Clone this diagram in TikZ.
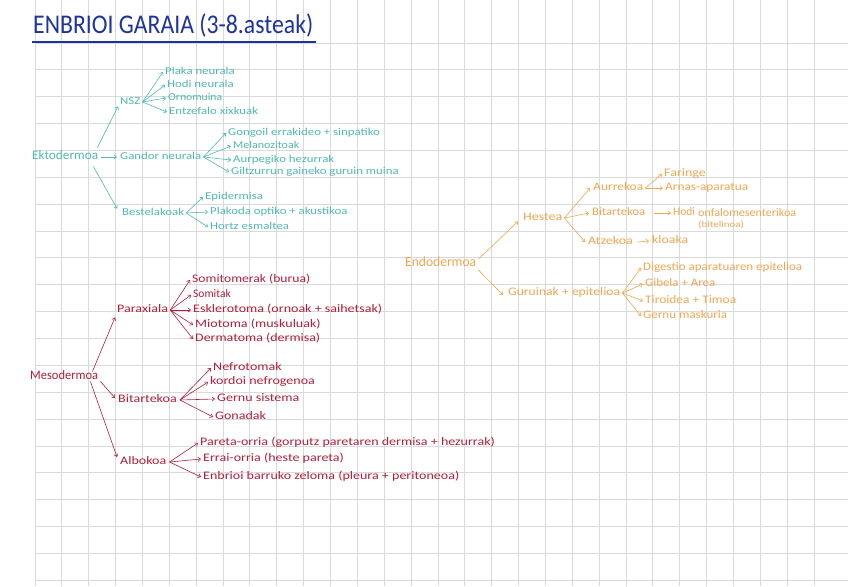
\documentclass[tikz,border=0pt]{standalone}
\usepackage{fontspec}
\setmainfont{Carlito}
\usepackage{graphicx}
\usetikzlibrary{arrows.meta}
\definecolor{tealc}{RGB}{80,184,180}
\definecolor{orangec}{RGB}{240,166,82}
\definecolor{crimc}{RGB}{176,32,58}
\definecolor{titleblue}{RGB}{30,52,156}
\definecolor{gridc}{RGB}{218,218,218}
\newlength{\hwlen}
\newcommand{\hw}[2]{\settowidth{\hwlen}{#2}%
  \pgfmathsetmacro{\hwratio}{max(0.92,min(1.22,#1/\hwlen))}%
  \scalebox{\hwratio}[1]{#2}}
\tikzset{
  txt/.style={anchor=west, inner sep=0pt, text height=0.65em, text depth=0.2em},
  ecto/.style={txt, text=tealc, font=\fontsize{10.5}{12}\selectfont},
  endo/.style={txt, text=orangec, font=\fontsize{11.5}{13}\selectfont},
  meso/.style={txt, text=crimc, font=\fontsize{11.5}{13}\selectfont},
  root/.style={font=\fontsize{13}{15}\selectfont},
  arr/.style={-{Straight Barb[length=2.6pt,width=4.2pt]}, line width=0.6pt},
  arre/.style={arr, draw=tealc},
  arrn/.style={arr, draw=orangec},
  arrm/.style={arr, draw=crimc},
  gridline/.style={draw=gridc, line width=0.8pt}
}
\begin{document}
\begin{tikzpicture}[x=1pt,y=-1pt]
\fill[white] (0,0) rectangle (848,586);
\useasboundingbox (0,0) rectangle (848,586);
% grid
\foreach \i in {0,...,29} \draw[gridline] ({35+26.86*\i},0) -- ({35+26.86*\i},586);
\foreach \j in {0,...,20} \draw[gridline] (35,{43+26.86*\j}) -- (848,{43+26.86*\j});
% title
\node[anchor=west, inner sep=0pt, text=titleblue, font=\fontsize{27}{30}\selectfont] (title) at (33,25) {\resizebox{280pt}{\height}{ENBRIOI GARAIA (3-8.asteak)}};
\coordinate (ul1) at (32,42);
\coordinate (ul2) at (316,42);
\draw[titleblue, line width=1.8pt] (ul1) -- (ul2);

% ===== Ektodermoa =====
\node[ecto, root] (ekto) at (32,157) {\hw{66}{Ektodermoa}};
\node[ecto] (nsz) at (120,102) {\hw{28}{NSZ}};
\node[ecto] (plaka) at (165,72) {\hw{75}{Plaka neurala}};
\node[ecto] (hodi) at (167,85) {\hw{71}{Hodi neurala}};
\node[ecto] (orno) at (168,98) {\hw{54}{Ornomuina}};
\node[ecto] (entz) at (169,112) {\hw{99}{Entzefalo xixkuak}};
\node[ecto] (gandor) at (120,157) {\hw{85}{Gandor neurala}};
\node[ecto] (gong) at (228,133) {\hw{157}{Gongoil errakideo + sinpatiko}};
\node[ecto] (mela) at (233,146) {\hw{66}{Melanozitoak}};
\node[ecto] (aurp) at (233,160) {\hw{105}{Aurpegiko hezurrak}};
\node[ecto] (gilt) at (231,172) {\hw{171}{Giltzurrun gaineko guruin muina}};
\node[ecto] (best) at (122,213) {\hw{63}{Bestelakoak}};
\node[ecto] (epid) at (205,197) {\hw{58}{Epidermisa}};
\node[ecto] (plako) at (210,212) {\hw{138}{Plakoda optiko + akustikoa}};
\node[ecto] (hortz) at (210,227) {\hw{81}{Hortz esmaltea}};

\draw[arre] ([xshift=-1pt,yshift=5pt]ekto.north east) -- ([xshift=-2pt]nsz.south west);
\draw[arre] ([xshift=3pt]ekto.east) -- ([xshift=-3pt]gandor.west);
\draw[arre] ([xshift=-5pt,yshift=-5pt]ekto.south east) -- ([xshift=-5pt]best.north west);
\foreach \t in {plaka,hodi,orno,entz}
  \draw[arre] ([xshift=2pt]nsz.east) -- ([xshift=-2pt]\t.west);
\foreach \t in {gong,mela,aurp,gilt}
  \draw[arre] ([xshift=2pt]gandor.east) -- ([xshift=-2pt]\t.west);
\foreach \t in {epid,plako,hortz}
  \draw[arre] ([xshift=2pt]best.east) -- ([xshift=-2pt]\t.west);

% ===== Endodermoa =====
\node[endo, font=\fontsize{14}{16}\selectfont] (endo) at (405,264) {\hw{71}{Endodermoa}};
\node[endo] (hestea) at (523,218) {\hw{39}{Hestea}};
\node[endo] (aurre) at (593,188) {\hw{50}{Aurrekoa}};
\node[endo] (faringe) at (664,174) {\hw{43}{Faringe}};
\node[endo] (arnas) at (665,188) {\hw{83}{Arnas-aparatua}};
\node[endo] (bitar) at (592,213) {\hw{53}{Bitartekoa}};
\node[endo] (hodib) at (673,213) {Hodi};
\node[endo] (onfalo) at (698,214) {\hw{98}{onfalomesenterikoa}};
\node[endo, font=\fontsize{9}{10}\selectfont] (bitel) at (698,225) {\hw{57}{(bitelinoa)}};
\node[endo] (atze) at (588,242) {\hw{45}{Atzekoa}};
\node[endo] (kloaka) at (652,241) {\hw{36}{kloaka}};
\node[endo] (gurui) at (508,293) {\hw{112}{Guruinak + epitelioa}};
\node[endo] (dig) at (643,268) {\hw{159}{Digestio aparatuaren epitelioa}};
\node[endo] (gib) at (645,284) {\hw{70}{Gibela + Area}};
\node[endo] (tir) at (645,301) {\hw{91}{Tiroidea + Timoa}};
\node[endo] (gern) at (643,316) {\hw{84}{Gernu maskuria}};

\draw[arrn] ([xshift=2pt,yshift=5pt]endo.east) -- ([xshift=-5pt,yshift=1pt]hestea.south west);
\draw[arrn] ([xshift=2pt,yshift=-6pt]endo.east) -- ([xshift=-5pt,yshift=-2pt]gurui.west);
\foreach \t in {aurre,bitar,atze}
  \draw[arrn] ([xshift=2pt]hestea.east) -- ([xshift=-3pt]\t.west);
\foreach \t in {faringe,arnas}
  \draw[arrn] ([xshift=2pt]aurre.east) -- ([xshift=-2pt]\t.west);
\draw[arrn] ([xshift=9pt]bitar.east) -- ([xshift=-2pt]hodib.west);
\draw[arrn] ([xshift=4pt]atze.east) -- ([xshift=-3pt]kloaka.west);
\foreach \t in {dig,gib,tir,gern}
  \draw[arrn] ([xshift=2pt]gurui.east) -- ([xshift=-2pt]\t.west);

% ===== Mesodermoa =====
\node[meso, root] (meso) at (30,377) {\hw{68}{Mesodermoa}};
\node[meso] (para) at (117,310) {\hw{56}{Paraxiala}};
\node[meso] (somito) at (192,280) {\hw{118}{Somitomerak (burua)}};
\node[meso] (somit) at (193,295) {Somitak};
\node[meso] (esk) at (193,310) {\hw{189}{Esklerotoma (ornoak + saihetsak)}};
\node[meso] (mio) at (195,325) {\hw{129}{Miotoma (muskuluak)}};
\node[meso] (derm) at (195,339) {\hw{125}{Dermatoma (dermisa)}};
\node[meso] (bitm) at (118,400) {\hw{64}{Bitartekoa}};
\node[meso] (nefro) at (213,368) {\hw{70}{Nefrotomak}};
\node[meso] (kord) at (210,382) {\hw{117}{kordoi nefrogenoa}};
\node[meso] (gsis) at (217,399) {\hw{88}{Gernu sistema}};
\node[meso] (gon) at (215,417) {\hw{56}{Gonadak}};
\node[meso] (albo) at (120,462) {\hw{51}{Albokoa}};
\node[meso] (pare) at (200,443) {\hw{312}{Pareta-orria (gorputz paretaren dermisa + hezurrak)}};
\node[meso] (errai) at (203,459) {\hw{171}{Errai-orria (heste pareta)}};
\node[meso] (enb) at (203,477) {\hw{262}{Enbrioi barruko zeloma (pleura + peritoneoa)}};

\draw[arrm] ([xshift=-6pt,yshift=1pt]meso.north east) -- ([xshift=-2pt,yshift=-3pt]para.south west);
\draw[arrm] ([xshift=2pt]meso.south east) -- ([xshift=-3pt,yshift=2pt]bitm.west);
\draw[arrm] ([xshift=-8pt]meso.south east) -- ([xshift=-3pt,yshift=5pt]albo.west);
\foreach \t in {somito,somit,esk,mio,derm}
  \draw[arrm] ([xshift=2pt]para.east) -- ([xshift=-2pt]\t.west);
\foreach \t in {nefro,kord,gsis,gon}
  \draw[arrm] ([xshift=3pt]bitm.east) -- ([xshift=-2pt]\t.west);
\foreach \t in {pare,errai,enb}
  \draw[arrm] ([xshift=3pt]albo.east) -- ([xshift=-2pt]\t.west);
\end{tikzpicture}
\end{document}
